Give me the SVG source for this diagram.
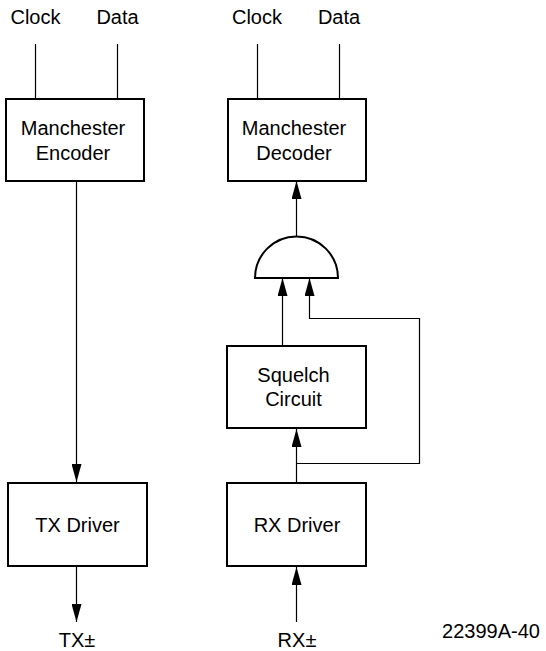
<svg xmlns="http://www.w3.org/2000/svg" width="546" height="651" viewBox="0 0 546 651">
<defs>
<style>
.box{fill:#fff;stroke:#000;stroke-width:2}
.ln{fill:none;stroke:#000;stroke-width:1.2}
text{font-family:"Liberation Sans",Arial,sans-serif;font-size:20px;fill:#000;text-anchor:middle}
</style>
<marker id="ah" markerUnits="userSpaceOnUse" markerWidth="18" markerHeight="10" viewBox="0 0 18 10" refX="18" refY="5" orient="auto">
<path d="M0,0 L18,5 L0,10 Z" fill="#000"/>
</marker>
</defs>
<rect width="546" height="651" fill="#fff"/>
<g id="connectors">
<line class="ln" x1="35.5" y1="44" x2="35.5" y2="99"/>
<line class="ln" x1="117.5" y1="44" x2="117.5" y2="99"/>
<line class="ln" x1="257.5" y1="44" x2="257.5" y2="99"/>
<line class="ln" x1="339.5" y1="44" x2="339.5" y2="99"/>
<line class="ln" x1="76.5" y1="182" x2="76.5" y2="482" marker-end="url(#ah)"/>
<line class="ln" x1="76.5" y1="567" x2="76.5" y2="622" marker-end="url(#ah)"/>
<line class="ln" x1="296.5" y1="622" x2="296.5" y2="567" marker-end="url(#ah)"/>
<line class="ln" x1="296.5" y1="482" x2="296.5" y2="429" marker-end="url(#ah)"/>
<path class="ln" d="M296.5,463.5 H419.5 V318.5 H309.5 V278" marker-end="url(#ah)"/>
<line class="ln" x1="282.5" y1="345" x2="282.5" y2="278" marker-end="url(#ah)"/>
<line class="ln" x1="296.5" y1="236" x2="296.5" y2="181" marker-end="url(#ah)"/>
</g>
<g id="clock-left"><text x="35.5" y="24">Clock</text></g>
<g id="data-left"><text x="117.5" y="24">Data</text></g>
<g id="clock-right"><text x="257" y="24">Clock</text></g>
<g id="data-right"><text x="339" y="24">Data</text></g>
<g id="encoder">
<rect class="box" x="6" y="99" width="138" height="82"/>
<text x="73" y="135">Manchester</text>
<text x="73" y="160">Encoder</text>
</g>
<g id="decoder">
<rect class="box" x="228" y="99" width="138" height="82"/>
<text x="294" y="135">Manchester</text>
<text x="294" y="160">Decoder</text>
</g>
<g id="gate">
<path d="M255,278 A41.5,41.5 0 0 1 338,278 Z" fill="#fff" stroke="#000" stroke-width="2"/>
</g>
<g id="squelch">
<rect class="box" x="227" y="346" width="139" height="82"/>
<text x="293.5" y="382">Squelch</text>
<text x="293.5" y="406">Circuit</text>
</g>
<g id="tx-driver">
<rect class="box" x="8" y="483" width="139" height="83"/>
<text x="77.5" y="532">TX Driver</text>
</g>
<g id="rx-driver">
<rect class="box" x="227" y="483" width="139" height="83"/>
<text x="297" y="532">RX Driver</text>
</g>
<g id="tx-out"><text x="77" y="647">TX±</text></g>
<g id="rx-in"><text x="297" y="647">RX±</text></g>
<g id="fig-id"><text x="491" y="638">22399A-40</text></g>
</svg>
